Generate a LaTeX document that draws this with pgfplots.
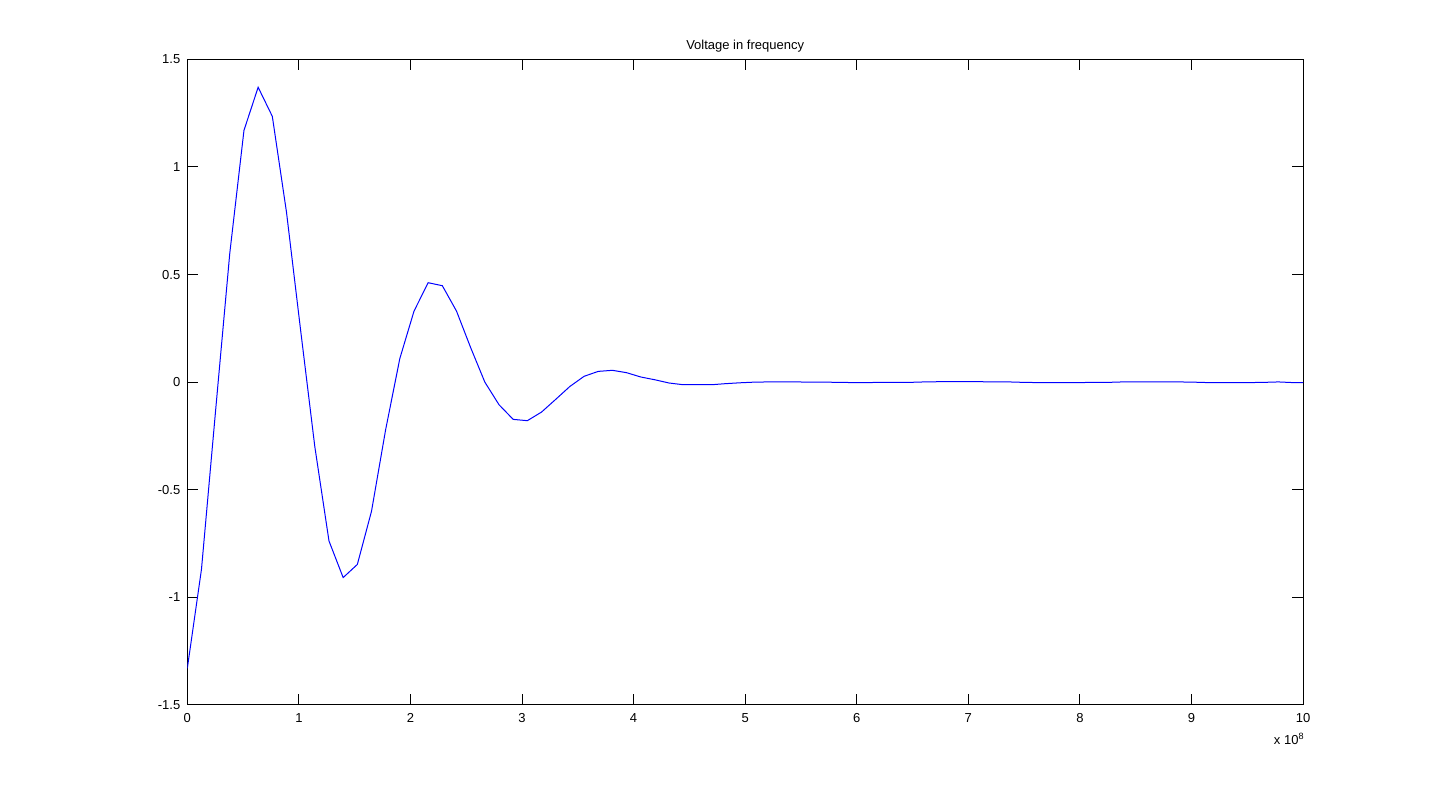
\documentclass[border=0pt]{standalone}
\usepackage{fontspec}
\setmainfont{Liberation Sans}
\usepackage{pgfplots}
\pgfplotsset{compat=1.18}
\usepackage{pgfplotstable}
\pgfplotstableread{
x y
0.000 -1.33
0.127 -0.87
0.254 -0.13
0.381 0.60
0.508 1.17
0.635 1.37
0.762 1.235
0.889 0.79
1.016 0.24
1.143 -0.30
1.270 -0.738
1.397 -0.908
1.524 -0.847
1.651 -0.60
1.778 -0.22
1.905 0.11
2.032 0.33
2.159 0.462
2.286 0.448
2.413 0.33
2.540 0.16
2.667 0.00
2.794 -0.105
2.921 -0.173
3.048 -0.179
3.175 -0.139
3.302 -0.08
3.429 -0.02
3.556 0.027
3.683 0.05
3.810 0.055
3.937 0.044
4.064 0.024
4.191 0.011
4.318 -0.004
4.445 -0.012
4.572 -0.012
4.699 -0.012
4.826 -0.007
4.953 -0.003
5.080 0.000
5.207 0.001
5.334 0.001
5.461 0.001
5.588 0.000
5.715 0.000
5.842 -0.001
5.969 -0.002
6.096 -0.002
6.223 -0.001
6.350 -0.001
6.477 -0.001
6.604 0.001
6.731 0.002
6.858 0.002
6.985 0.002
7.112 0.002
7.239 0.001
7.366 0.001
7.493 -0.001
7.620 -0.002
7.747 -0.002
7.874 -0.002
8.001 -0.002
8.128 -0.001
8.255 -0.001
8.382 0.001
8.509 0.001
8.636 0.001
8.763 0.001
8.890 0.001
9.017 0.000
9.144 -0.002
9.271 -0.002
9.398 -0.002
9.525 -0.002
9.652 -0.001
9.779 0.001
9.906 -0.002
10.033 -0.003
}\datatable
\begin{document}
\begin{tikzpicture}
\path[use as bounding box] (-93.65pt,-43.5pt) rectangle (626.35pt,352.5pt);
\begin{axis}[
  name=ax,
  scale only axis,
  width=557.85pt, height=322.85pt,
  xmin=0, xmax=10, ymin=-1.5, ymax=1.5,
  xtick={0,1,...,10},
  ytick={-1.5,-1,-0.5,0,0.5,1,1.5},
  yticklabels={-1.5,-1,-0.5,0,0.5,1,1.5},
  tick align=inside,
  major tick length=5.5pt,
  axis line style={line width=0.5pt},
  every tick/.style={black, line width=0.5pt},
  tick label style={font=\fontsize{6.5}{7}\selectfont},
  /pgf/number format/assume math mode=true,
  xticklabel style={yshift=-0.5pt},
  title={Voltage in frequency},
  title style={font=\fontsize{6.5}{7}\selectfont, yshift=-6pt},
  clip=true,
]
\addplot[color={rgb,255:red,0;green,0;blue,255}, line width=0.5pt, mark=none] table[x=x, y=y] {\datatable};
\end{axis}
\node[anchor=north east, font=\fontsize{6.5}{7}\selectfont, inner sep=0pt, xshift=1pt, yshift=-14pt] at (ax.south east) {x 10\textsuperscript{8}};
\end{tikzpicture}
\end{document}
